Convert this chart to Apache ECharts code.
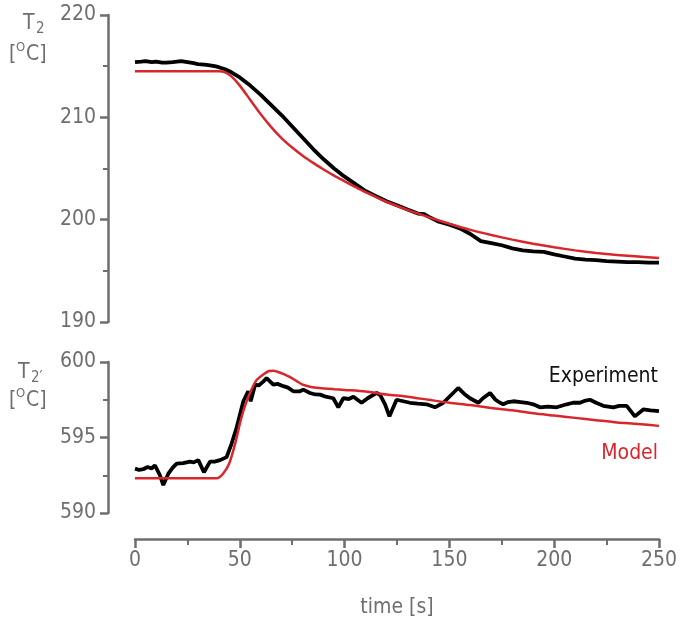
<!DOCTYPE html>
<html>
<head>
<meta charset="utf-8">
<script src="https://cdn.jsdelivr.net/npm/echarts@6/dist/echarts.min.js"></script>
<style>html,body{margin:0;padding:0;background:#fff}#c{width:680px;height:619px}</style>
</head>
<body>
<div id="c"></div>
<script>
// ---- data ----
const xTicks = [0, 50, 100, 150, 200, 250];
const topTicks = [190, 200, 210, 220];
const botTicks = [590, 595, 600];

const expTopTime = [0,3,5,8,10,13,15,18,20,22,25,28,30,33,35,38,40,43,46,50,55,60,65,70,75,80,85,90,95,100,105,110,115,120,125,130,135,138,140,145,150,155,160,165,170,175,180,185,190,195,200,205,210,215,220,225,230,235,240,245,250];
const expTopVals = [215.4,215.45,215.5,215.4,215.45,215.35,215.35,215.4,215.45,215.5,215.4,215.3,215.2,215.15,215.1,215.0,214.9,214.7,214.4,213.9,213.1,212.2,211.2,210.2,209.1,208.0,206.9,205.9,205.0,204.2,203.5,202.8,202.3,201.8,201.4,201.0,200.6,200.55,200.3,199.8,199.5,199.15,198.6,197.9,197.7,197.5,197.2,197.0,196.9,196.85,196.6,196.4,196.2,196.1,196.05,195.95,195.9,195.85,195.85,195.8,195.8];

const modelTopTime = [0,40,43,46,50,55,60,65,70,75,80,85,90,95,100,105,110,115,120,130,140,150,160,170,180,190,200,210,220,230,240,250];
const modelTopVals = [214.5,214.5,214.4,214.0,213.1,211.7,210.3,209.05,207.95,207.05,206.25,205.55,204.9,204.3,203.75,203.2,202.7,202.2,201.75,200.95,200.25,199.6,199.0,198.5,198.05,197.65,197.3,197.0,196.75,196.55,196.4,196.25];

const expBotTime = [0,2,3.9,6,8,9.5,11.9,13.5,15.9,18,19.9,23,26.2,28,30.2,32.9,35.8,38,40.6,43.7,46.1,48.5,51.7,54,55.2,57.3,59,61.2,62.8,66,68,70.8,73,75.5,78.7,80.3,83.5,86,88.3,91,94.6,97,99.4,102,104.2,108.1,111,115.3,117,119.3,121.4,124.8,128,131.2,135,139.1,143.1,147.1,150,154.2,157,159.8,163.8,166,169.4,172,174.2,175.7,178,180.5,184,186.9,190,193.2,197,201.2,206,209,212.3,215,217.1,220,223.4,228.2,231,234.6,238.5,242.5,246,250];
const expBotVals = [592.94,592.85,592.9,593.05,592.95,593.16,592.5,591.85,592.6,593.0,593.27,593.3,593.4,593.35,593.5,592.7,593.4,593.4,593.5,593.7,594.6,595.66,597.4,598.06,597.4,598.5,598.45,598.7,598.93,598.5,598.55,598.4,598.3,598.06,598.06,598.17,597.95,597.85,597.84,597.7,597.6,597.0,597.6,597.55,597.7,597.3,597.6,597.95,597.8,597.2,596.4,597.5,597.4,597.3,597.25,597.2,597.0,597.3,597.7,598.28,597.9,597.6,597.3,597.6,597.95,597.5,597.3,597.2,597.35,597.4,597.35,597.3,597.2,597.0,597.05,597.0,597.2,597.3,597.3,597.45,597.5,597.3,597.1,597.0,597.1,597.1,596.4,596.86,596.8,596.75];

const modelBotTime = [0,39,42,45,48,50,52,55,58,61,64,66,68,71,74,77,80,84,88,95,100,110,120,130,140,150,160,170,180,190,200,210,220,230,240,250];
const modelBotVals = [592.3,592.3,592.6,593.3,594.7,595.9,596.9,598.0,598.8,599.15,599.4,599.42,599.35,599.2,599.0,598.75,598.5,598.35,598.28,598.2,598.15,598.05,597.85,597.7,597.5,597.3,597.15,596.95,596.8,596.6,596.45,596.3,596.15,596.0,595.9,595.77];

// ---- chart ----
const zip = (a, b) => a.map((t, i) => [t, b[i]]);
const GRAY = '#6e6e6e';
const RED = '#d9262c';
const FONT = "'Liberation Sans Narrow', 'DejaVu Sans Condensed', Roboto, sans-serif";

const yAxisBase = {
  type: 'value',
  position: 'left',
  offset: 27,
  axisLine: { show: true, onZero: false, lineStyle: { color: GRAY, width: 2.5 } },
  axisTick: { show: true, inside: false, length: 8, lineStyle: { color: GRAY, width: 2.5 } },
  minorTick: { show: true, splitNumber: 2, length: 5, lineStyle: { color: GRAY, width: 2 } },
  splitLine: { show: false },
  axisLabel: { color: GRAY, fontSize: 21, fontFamily: FONT, margin: 12 }
};

const chart = echarts.init(document.getElementById('c'), null, { renderer: 'canvas' });
chart.setOption({
  animation: false,
  backgroundColor: '#fff',
  grid: [
    { left: 135, right: 21, top: 15, height: 307 },
    { left: 135, right: 21, top: 362, height: 153 }
  ],
  xAxis: [
    { gridIndex: 0, type: 'value', min: xTicks[0], max: xTicks[xTicks.length - 1], interval: 50, show: false },
    {
      gridIndex: 1, type: 'value', min: xTicks[0], max: xTicks[xTicks.length - 1], interval: 50,
      position: 'bottom', offset: 26,
      name: 'time [s]', nameLocation: 'middle', nameGap: 58,
      nameTextStyle: { color: GRAY, fontSize: 21, fontFamily: FONT },
      axisLine: { show: true, onZero: false, lineStyle: { color: GRAY, width: 2.5 } },
      axisTick: { show: true, length: 9, lineStyle: { color: GRAY, width: 2.5 } },
      minorTick: { show: true, splitNumber: 2, length: 6, lineStyle: { color: GRAY, width: 2 } },
      splitLine: { show: false },
      axisLabel: { color: GRAY, fontSize: 21, fontFamily: FONT, margin: 11 }
    }
  ],
  yAxis: [
    Object.assign({}, yAxisBase, { gridIndex: 0, min: topTicks[0], max: topTicks[topTicks.length - 1], interval: 10 }),
    Object.assign({}, yAxisBase, { gridIndex: 1, min: botTicks[0], max: botTicks[botTicks.length - 1], interval: 5 })
  ],
  series: [
    { type: 'line', xAxisIndex: 0, yAxisIndex: 0, data: zip(expTopTime, expTopVals), showSymbol: false, symbol: 'none', lineStyle: { color: '#000', width: 3.8 }, z: 2 },
    { type: 'line', xAxisIndex: 0, yAxisIndex: 0, data: zip(modelTopTime, modelTopVals), smooth: 0.25, showSymbol: false, symbol: 'none', lineStyle: { color: RED, width: 2.5 }, z: 3 },
    { type: 'line', xAxisIndex: 1, yAxisIndex: 1, data: zip(expBotTime, expBotVals), showSymbol: false, symbol: 'none', lineStyle: { color: '#000', width: 3.8 }, z: 2 },
    { type: 'line', xAxisIndex: 1, yAxisIndex: 1, data: zip(modelBotTime, modelBotVals), smooth: 0.25, showSymbol: false, symbol: 'none', lineStyle: { color: RED, width: 2.5 }, z: 3 }
  ],
  graphic: [
    { type: 'text', style: { x: 23, y: 13, text: 'T', font: '21px ' + FONT, fill: GRAY, textVerticalAlign: 'top' } },
    { type: 'text', style: { x: 36, y: 22, text: '2', font: '15px ' + FONT, fill: GRAY, textVerticalAlign: 'top' } },
    { type: 'text', style: { x: 9, y: 44, text: '[', font: '21px ' + FONT, fill: GRAY, textVerticalAlign: 'top' } },
    { type: 'text', style: { x: 16, y: 41, text: 'O', font: '13px ' + FONT, fill: GRAY, textVerticalAlign: 'top' } },
    { type: 'text', style: { x: 26, y: 44, text: 'C]', font: '21px ' + FONT, fill: GRAY, textVerticalAlign: 'top' } },

    { type: 'text', style: { x: 18, y: 362, text: 'T', font: '21px ' + FONT, fill: GRAY, textVerticalAlign: 'top' } },
    { type: 'text', style: { x: 31, y: 371, text: '2′', font: '15px ' + FONT, fill: GRAY, textVerticalAlign: 'top' } },
    { type: 'text', style: { x: 9, y: 390, text: '[', font: '21px ' + FONT, fill: GRAY, textVerticalAlign: 'top' } },
    { type: 'text', style: { x: 16, y: 387, text: 'O', font: '13px ' + FONT, fill: GRAY, textVerticalAlign: 'top' } },
    { type: 'text', style: { x: 26, y: 390, text: 'C]', font: '21px ' + FONT, fill: GRAY, textVerticalAlign: 'top' } },

    { type: 'text', style: { x: 658, y: 366, text: 'Experiment', font: '21px ' + FONT, fill: '#111', textAlign: 'right', textVerticalAlign: 'top' } },
    { type: 'text', style: { x: 658, y: 443, text: 'Model', font: '21px ' + FONT, fill: RED, textAlign: 'right', textVerticalAlign: 'top' } }
  ]
});
</script>
</body>
</html>
